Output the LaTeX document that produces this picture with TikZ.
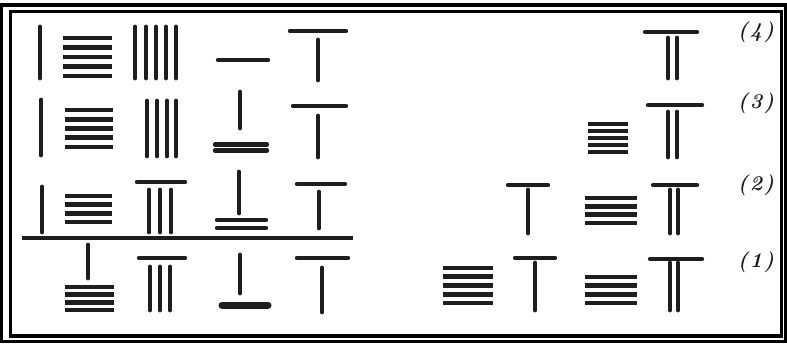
\documentclass[tikz,border=0pt]{standalone}
\usepackage{fontspec}
\usepackage{xcolor}
\usepackage{tikz}
\usetikzlibrary{positioning}
\definecolor{ink}{RGB}{30,30,30}

\begin{document}
\begin{tikzpicture}[
  x=1pt, y=-1pt,
  rod/.style={draw=ink, line width=4.8pt, line cap=round},
  bar/.style={draw=ink, line width=4.8pt, line cap=butt},
  toprod/.style={draw=ink, line width=4.4pt, line cap=round},
  frameline/.style={draw=black, line width=3.5pt},
  tag/.style={font=\fontsize{21}{23}\selectfont\itshape\bfseries, text=ink, inner sep=0pt}
]
\useasboundingbox (0,0) rectangle (787,343);
% double frame
\draw[frameline] (1.5,5) rectangle (786,341.5);
\draw[frameline] (10.5,11.5) rectangle (781.5,336);
% single vertical rods
\foreach \x/\ya/\yb in {40/27/78, 135/27/78, 146/27/78, 156/27/78, 166/27/78, 176/27/78, 318/40/80,
    41/100/155, 147/101/156, 157/101/156, 167/101/156, 176/101/156, 240/92/128, 318/116/157,
    42/187/232, 149/190/232, 160/190/232, 171/190/232, 239/172/213, 319/192/228,
    88/245/278, 150/267/310, 160/267/310, 170/267/310, 240/255/293, 322/268/312,
    668/38/78, 677/38/78, 668/112/157, 677/112/157,
    528/190/233, 670/190/233, 678/190/233,
    535/263/310, 670/263/310, 678/263/310}{
  \draw[rod] (\x,\ya) -- (\x,\yb);
}
% lying rods (tops of T, bottoms of inverted T)
\foreach \xa/\xb/\y in {218/268/60, 290/346/31, 293/346/106,
    137/185/182, 297/345/184, 139/185/258, 297/348/258,
    215/267/144.5, 215/267/150.5, 217/266/220, 217/266/228,
    645/697/32, 648/702/105, 508/548/185, 653/697/185, 515/555/258, 650/702/259}{
  \draw[toprod] (\xa,\y) -- (\xb,\y);
}
\draw[toprod, line width=7pt] (222,305) -- (268,305);
% stacks of lying rods
\foreach \xa/\xb/\ya/\yb/\n in {63/112/38/76/5, 65/113/110/147/5, 65/112/196/222/4,
    65/114/287/310/4, 588/628/124/152/5, 585/637/198/223/4,
    443/493/268/303/5, 585/637/277/303/4}{
  \foreach \k in {1,...,\n}{
    \draw[bar] (\xa,{\ya+(\k-1)*(\yb-\ya)/(\n-1)}) -- (\xb,{\ya+(\k-1)*(\yb-\ya)/(\n-1)});
  }
}
% divider
\draw[draw=ink, line width=3.4pt] (22,238) -- (353,238);
% row tags
\node[tag] (tag4) at (756,32) {(\kern2pt4\kern2pt)};
\node[tag] (tag3) at (756,103) {(\kern2pt3\kern2pt)};
\node[tag] (tag2) at (756,185) {(\kern2pt2\kern2pt)};
\node[tag] (tag1) at (756,262) {(\kern2pt1\kern2pt)};
\end{tikzpicture}
\end{document}
